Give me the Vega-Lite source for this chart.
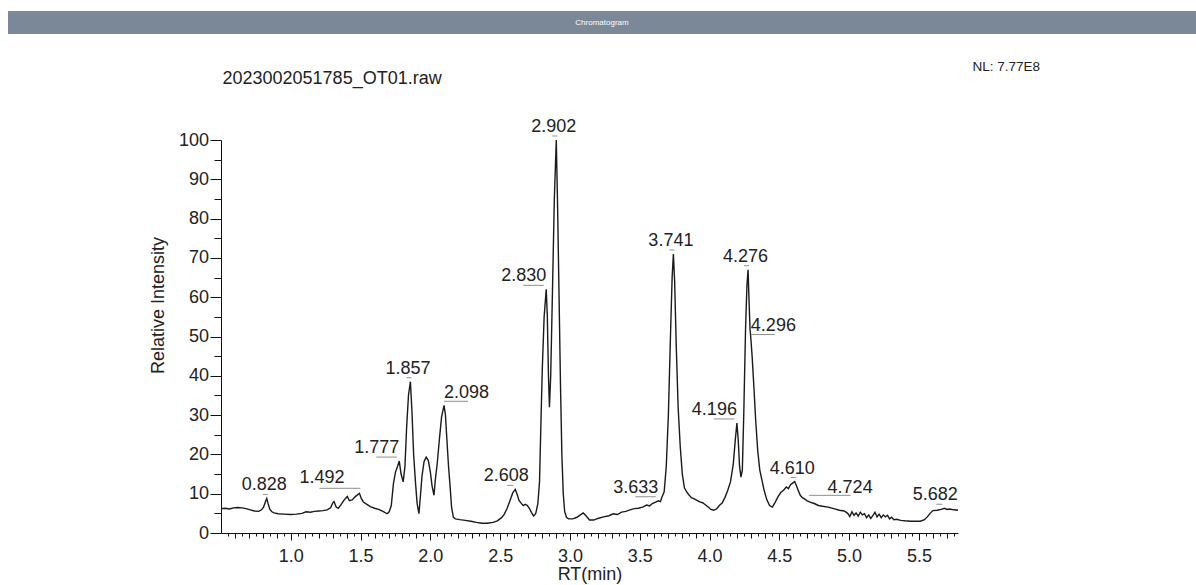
{
  "$schema": "https://vega.github.io/schema/vega-lite/v6.json",
  "padding": {"left": 8, "top": 11, "right": 0, "bottom": 0},
  "background": "white",
  "config": {
    "view": {"stroke": null},
    "font": "Liberation Sans",
    "axis": {
      "grid": false,
      "domainColor": "#111111",
      "tickColor": "#111111",
      "labelColor": "#222222",
      "titleColor": "#222222",
      "labelFont": "Liberation Sans",
      "titleFont": "Liberation Sans",
      "labelFontSize": 18,
      "titleFontSize": 18,
      "titleFontWeight": "normal"
    }
  },
  "datasets": {
    "trace": [
      {"rt": 0.50, "intensity": 6.2}, {"rt": 0.53, "intensity": 6.3}, {"rt": 0.56, "intensity": 6.1}, {"rt": 0.59, "intensity": 6.4},
      {"rt": 0.62, "intensity": 6.5}, {"rt": 0.65, "intensity": 6.4}, {"rt": 0.68, "intensity": 6.2}, {"rt": 0.71, "intensity": 5.9},
      {"rt": 0.74, "intensity": 5.6}, {"rt": 0.77, "intensity": 5.5}, {"rt": 0.79, "intensity": 5.9}, {"rt": 0.805, "intensity": 6.6},
      {"rt": 0.817, "intensity": 7.8}, {"rt": 0.828, "intensity": 8.8}, {"rt": 0.838, "intensity": 7.4}, {"rt": 0.85, "intensity": 6.0},
      {"rt": 0.865, "intensity": 5.4}, {"rt": 0.88, "intensity": 5.1}, {"rt": 0.91, "intensity": 4.9}, {"rt": 0.95, "intensity": 4.8},
      {"rt": 1.00, "intensity": 4.7}, {"rt": 1.04, "intensity": 4.8}, {"rt": 1.08, "intensity": 5.0}, {"rt": 1.11, "intensity": 5.4},
      {"rt": 1.14, "intensity": 5.3}, {"rt": 1.17, "intensity": 5.5}, {"rt": 1.20, "intensity": 5.6}, {"rt": 1.23, "intensity": 5.7},
      {"rt": 1.26, "intensity": 5.9}, {"rt": 1.285, "intensity": 6.4}, {"rt": 1.30, "intensity": 7.6}, {"rt": 1.31, "intensity": 8.0},
      {"rt": 1.325, "intensity": 6.6}, {"rt": 1.34, "intensity": 6.3}, {"rt": 1.36, "intensity": 7.2}, {"rt": 1.38, "intensity": 8.3},
      {"rt": 1.395, "intensity": 8.9}, {"rt": 1.405, "intensity": 9.3}, {"rt": 1.42, "intensity": 8.2}, {"rt": 1.44, "intensity": 8.4},
      {"rt": 1.46, "intensity": 9.2}, {"rt": 1.478, "intensity": 9.7}, {"rt": 1.492, "intensity": 10.1}, {"rt": 1.505, "intensity": 8.8},
      {"rt": 1.52, "intensity": 7.9}, {"rt": 1.54, "intensity": 7.4}, {"rt": 1.57, "intensity": 6.7}, {"rt": 1.60, "intensity": 6.3},
      {"rt": 1.63, "intensity": 6.0}, {"rt": 1.66, "intensity": 5.5}, {"rt": 1.69, "intensity": 4.9}, {"rt": 1.705, "intensity": 5.4},
      {"rt": 1.72, "intensity": 7.0}, {"rt": 1.735, "intensity": 12.5}, {"rt": 1.75, "intensity": 15.5}, {"rt": 1.765, "intensity": 17.0},
      {"rt": 1.777, "intensity": 18.3}, {"rt": 1.79, "intensity": 15.0}, {"rt": 1.805, "intensity": 13.0}, {"rt": 1.818, "intensity": 17.0},
      {"rt": 1.83, "intensity": 27.0}, {"rt": 1.843, "intensity": 35.0}, {"rt": 1.857, "intensity": 38.5}, {"rt": 1.868, "intensity": 31.0},
      {"rt": 1.88, "intensity": 20.0}, {"rt": 1.893, "intensity": 13.0}, {"rt": 1.905, "intensity": 7.5}, {"rt": 1.918, "intensity": 4.9},
      {"rt": 1.93, "intensity": 10.0}, {"rt": 1.94, "intensity": 14.5}, {"rt": 1.955, "intensity": 18.2}, {"rt": 1.97, "intensity": 19.3},
      {"rt": 1.985, "intensity": 18.5}, {"rt": 2.0, "intensity": 15.5}, {"rt": 2.012, "intensity": 12.0}, {"rt": 2.026, "intensity": 9.6},
      {"rt": 2.035, "intensity": 13.4}, {"rt": 2.05, "intensity": 18.0}, {"rt": 2.065, "intensity": 24.0}, {"rt": 2.08, "intensity": 29.5},
      {"rt": 2.098, "intensity": 32.5}, {"rt": 2.108, "intensity": 30.0}, {"rt": 2.118, "intensity": 24.0}, {"rt": 2.13, "intensity": 17.0},
      {"rt": 2.141, "intensity": 12.0}, {"rt": 2.152, "intensity": 6.5}, {"rt": 2.165, "intensity": 4.0}, {"rt": 2.18, "intensity": 3.6},
      {"rt": 2.21, "intensity": 3.4}, {"rt": 2.25, "intensity": 3.2}, {"rt": 2.29, "intensity": 3.0}, {"rt": 2.33, "intensity": 2.7},
      {"rt": 2.37, "intensity": 2.5}, {"rt": 2.41, "intensity": 2.5}, {"rt": 2.45, "intensity": 2.7}, {"rt": 2.48, "intensity": 3.1},
      {"rt": 2.51, "intensity": 3.9}, {"rt": 2.53, "intensity": 4.8}, {"rt": 2.55, "intensity": 6.3}, {"rt": 2.57, "intensity": 8.2},
      {"rt": 2.59, "intensity": 10.2}, {"rt": 2.608, "intensity": 11.1}, {"rt": 2.622, "intensity": 9.8}, {"rt": 2.635, "intensity": 8.3},
      {"rt": 2.65, "intensity": 7.6}, {"rt": 2.665, "intensity": 7.0}, {"rt": 2.68, "intensity": 7.3}, {"rt": 2.695, "intensity": 7.0},
      {"rt": 2.71, "intensity": 6.2}, {"rt": 2.725, "intensity": 5.2}, {"rt": 2.74, "intensity": 4.3}, {"rt": 2.755, "intensity": 5.0},
      {"rt": 2.77, "intensity": 7.5}, {"rt": 2.782, "intensity": 13.0}, {"rt": 2.792, "intensity": 28.0}, {"rt": 2.802, "intensity": 42.0},
      {"rt": 2.815, "intensity": 55.0}, {"rt": 2.830, "intensity": 62.0}, {"rt": 2.838, "intensity": 55.0}, {"rt": 2.846, "intensity": 40.0},
      {"rt": 2.853, "intensity": 32.0}, {"rt": 2.862, "intensity": 40.0}, {"rt": 2.875, "intensity": 62.0}, {"rt": 2.888, "intensity": 85.0},
      {"rt": 2.902, "intensity": 100.0}, {"rt": 2.912, "intensity": 82.0}, {"rt": 2.922, "intensity": 60.0}, {"rt": 2.932, "intensity": 38.0},
      {"rt": 2.942, "intensity": 20.0}, {"rt": 2.952, "intensity": 10.0}, {"rt": 2.962, "intensity": 5.5}, {"rt": 2.975, "intensity": 4.0},
      {"rt": 2.99, "intensity": 3.6}, {"rt": 3.02, "intensity": 3.6}, {"rt": 3.05, "intensity": 4.0}, {"rt": 3.075, "intensity": 4.6},
      {"rt": 3.095, "intensity": 5.1}, {"rt": 3.115, "intensity": 4.4}, {"rt": 3.14, "intensity": 3.3}, {"rt": 3.17, "intensity": 3.3},
      {"rt": 3.20, "intensity": 3.7}, {"rt": 3.24, "intensity": 4.1}, {"rt": 3.28, "intensity": 4.4}, {"rt": 3.31, "intensity": 4.9},
      {"rt": 3.34, "intensity": 4.7}, {"rt": 3.37, "intensity": 5.3}, {"rt": 3.40, "intensity": 5.5}, {"rt": 3.43, "intensity": 5.9},
      {"rt": 3.46, "intensity": 6.2}, {"rt": 3.49, "intensity": 6.3}, {"rt": 3.52, "intensity": 6.6}, {"rt": 3.55, "intensity": 7.1},
      {"rt": 3.57, "intensity": 6.9}, {"rt": 3.59, "intensity": 7.5}, {"rt": 3.61, "intensity": 7.8}, {"rt": 3.633, "intensity": 8.2},
      {"rt": 3.648, "intensity": 8.0}, {"rt": 3.66, "intensity": 9.2}, {"rt": 3.675, "intensity": 10.5}, {"rt": 3.69, "intensity": 17.0},
      {"rt": 3.705, "intensity": 30.0}, {"rt": 3.72, "intensity": 50.0}, {"rt": 3.732, "intensity": 65.0}, {"rt": 3.741, "intensity": 71.0},
      {"rt": 3.75, "intensity": 64.0}, {"rt": 3.762, "intensity": 47.0}, {"rt": 3.775, "intensity": 32.0}, {"rt": 3.79, "intensity": 22.0},
      {"rt": 3.805, "intensity": 15.0}, {"rt": 3.82, "intensity": 11.5}, {"rt": 3.835, "intensity": 10.5}, {"rt": 3.85, "intensity": 9.8},
      {"rt": 3.87, "intensity": 9.0}, {"rt": 3.89, "intensity": 8.7}, {"rt": 3.91, "intensity": 8.3}, {"rt": 3.93, "intensity": 7.9},
      {"rt": 3.95, "intensity": 7.7}, {"rt": 3.97, "intensity": 7.2}, {"rt": 3.99, "intensity": 6.6}, {"rt": 4.01, "intensity": 6.0},
      {"rt": 4.03, "intensity": 5.8}, {"rt": 4.05, "intensity": 6.1}, {"rt": 4.07, "intensity": 7.0}, {"rt": 4.09, "intensity": 7.6},
      {"rt": 4.11, "intensity": 9.0}, {"rt": 4.13, "intensity": 10.8}, {"rt": 4.15, "intensity": 13.0}, {"rt": 4.17, "intensity": 17.5},
      {"rt": 4.184, "intensity": 23.5}, {"rt": 4.196, "intensity": 28.0}, {"rt": 4.205, "intensity": 24.0}, {"rt": 4.215, "intensity": 17.0},
      {"rt": 4.225, "intensity": 14.2}, {"rt": 4.235, "intensity": 16.0}, {"rt": 4.245, "intensity": 30.0}, {"rt": 4.258, "intensity": 52.0},
      {"rt": 4.268, "intensity": 63.0}, {"rt": 4.276, "intensity": 67.0}, {"rt": 4.284, "intensity": 58.0}, {"rt": 4.290, "intensity": 52.0},
      {"rt": 4.296, "intensity": 49.5}, {"rt": 4.305, "intensity": 45.0}, {"rt": 4.318, "intensity": 37.0}, {"rt": 4.33, "intensity": 29.0},
      {"rt": 4.345, "intensity": 21.0}, {"rt": 4.36, "intensity": 16.0}, {"rt": 4.375, "intensity": 13.5}, {"rt": 4.39, "intensity": 11.0},
      {"rt": 4.41, "intensity": 8.5}, {"rt": 4.43, "intensity": 7.0}, {"rt": 4.45, "intensity": 6.6}, {"rt": 4.47, "intensity": 7.8},
      {"rt": 4.49, "intensity": 9.2}, {"rt": 4.51, "intensity": 10.3}, {"rt": 4.53, "intensity": 10.9}, {"rt": 4.55, "intensity": 11.7},
      {"rt": 4.565, "intensity": 11.3}, {"rt": 4.58, "intensity": 12.3}, {"rt": 4.595, "intensity": 12.7}, {"rt": 4.610, "intensity": 13.1},
      {"rt": 4.622, "intensity": 12.1}, {"rt": 4.635, "intensity": 10.9}, {"rt": 4.65, "intensity": 9.6}, {"rt": 4.665, "intensity": 9.0},
      {"rt": 4.68, "intensity": 8.7}, {"rt": 4.70, "intensity": 8.2}, {"rt": 4.724, "intensity": 7.8}, {"rt": 4.75, "intensity": 7.5},
      {"rt": 4.78, "intensity": 7.0}, {"rt": 4.81, "intensity": 6.8}, {"rt": 4.85, "intensity": 6.6}, {"rt": 4.89, "intensity": 6.2},
      {"rt": 4.93, "intensity": 5.8}, {"rt": 4.965, "intensity": 5.6}, {"rt": 4.99, "intensity": 5.0}, {"rt": 5.005, "intensity": 4.2},
      {"rt": 5.02, "intensity": 5.4}, {"rt": 5.035, "intensity": 4.5}, {"rt": 5.05, "intensity": 5.1}, {"rt": 5.065, "intensity": 4.3},
      {"rt": 5.08, "intensity": 5.3}, {"rt": 5.095, "intensity": 4.6}, {"rt": 5.11, "intensity": 4.9}, {"rt": 5.125, "intensity": 3.9},
      {"rt": 5.14, "intensity": 4.6}, {"rt": 5.155, "intensity": 3.7}, {"rt": 5.17, "intensity": 4.4}, {"rt": 5.185, "intensity": 5.3},
      {"rt": 5.20, "intensity": 4.1}, {"rt": 5.215, "intensity": 4.8}, {"rt": 5.23, "intensity": 3.9}, {"rt": 5.245, "intensity": 4.6},
      {"rt": 5.26, "intensity": 4.1}, {"rt": 5.275, "intensity": 4.5}, {"rt": 5.29, "intensity": 3.6}, {"rt": 5.305, "intensity": 4.0},
      {"rt": 5.32, "intensity": 3.4}, {"rt": 5.34, "intensity": 3.5}, {"rt": 5.37, "intensity": 3.2}, {"rt": 5.40, "intensity": 3.1},
      {"rt": 5.44, "intensity": 3.0}, {"rt": 5.48, "intensity": 3.0}, {"rt": 5.51, "intensity": 3.0}, {"rt": 5.54, "intensity": 3.4},
      {"rt": 5.56, "intensity": 4.1}, {"rt": 5.58, "intensity": 5.0}, {"rt": 5.60, "intensity": 5.7}, {"rt": 5.63, "intensity": 5.8},
      {"rt": 5.66, "intensity": 6.0}, {"rt": 5.682, "intensity": 6.3}, {"rt": 5.70, "intensity": 6.0}, {"rt": 5.72, "intensity": 6.1},
      {"rt": 5.75, "intensity": 5.9}, {"rt": 5.78, "intensity": 5.8}
    ],
    "peaks": [
      {"rt": 0.828, "intensity": 8.8, "side": "above"},
      {"rt": 1.492, "intensity": 10.1, "side": "leftFar"},
      {"rt": 1.777, "intensity": 18.3, "side": "left"},
      {"rt": 1.857, "intensity": 38.5, "side": "above"},
      {"rt": 2.098, "intensity": 32.5, "side": "right"},
      {"rt": 2.608, "intensity": 11.1, "side": "aboveLeft"},
      {"rt": 2.830, "intensity": 62.0, "side": "left"},
      {"rt": 2.902, "intensity": 100.0, "side": "above"},
      {"rt": 3.633, "intensity": 8.2, "side": "left"},
      {"rt": 3.741, "intensity": 71.0, "side": "above"},
      {"rt": 4.196, "intensity": 28.0, "side": "left"},
      {"rt": 4.276, "intensity": 67.0, "side": "above"},
      {"rt": 4.296, "intensity": 49.5, "side": "right"},
      {"rt": 4.610, "intensity": 13.1, "side": "above"},
      {"rt": 4.724, "intensity": 7.8, "side": "rightFar"},
      {"rt": 5.682, "intensity": 6.3, "side": "aboveLeft"}
    ]
  },
  "vconcat": [
    {
      "width": 1188,
      "height": 23,
      "view": {"fill": "#7a8898", "stroke": null},
      "data": {"values": [{"caption": "Chromatogram"}]},
      "mark": {"type": "text", "color": "white", "fontSize": 8, "font": "Liberation Sans"},
      "encoding": {"text": {"field": "caption"}}
    },
    {
      "hconcat": [
        {
          "width": 213,
          "height": 393,
          "data": {"values": [{"caption": "Relative Intensity"}]},
          "mark": {"type": "text", "angle": 270, "fontSize": 18, "color": "#222222", "align": "center", "baseline": "middle", "dx": 31, "dy": 44},
          "encoding": {"text": {"field": "caption"}}
        },
        {
          "width": 737,
          "height": 393,
          "resolve": {"axis": {"x": "independent", "y": "independent"}},
          "layer": [
            {
              "data": {"name": "trace"},
              "mark": {"type": "line", "color": "#1a1a1a", "strokeWidth": 1.4},
              "encoding": {
                "x": {
                  "field": "rt", "type": "quantitative",
                  "scale": {"domain": [0.5, 5.78], "nice": false, "zero": false},
                  "axis": {
                    "orient": "bottom", "values": [1, 1.5, 2, 2.5, 3, 3.5, 4, 4.5, 5, 5.5], "format": ".1f",
                    "tickSize": 7, "labelPadding": 7.5, "labelFlush": false, "labelOverlap": false,
                    "title": "RT(min)", "titleX": 368.5, "titleY": 46.5, "titleAlign": "center", "titleBaseline": "alphabetic"
                  }
                },
                "y": {
                  "field": "intensity", "type": "quantitative",
                  "scale": {"domain": [0, 100], "nice": false, "zero": true},
                  "axis": {
                    "orient": "left", "values": [0, 10, 20, 30, 40, 50, 60, 70, 80, 90, 100],
                    "tickSize": 11, "labelPadding": 1.5, "labelOverlap": false, "title": null
                  }
                }
              }
            },
            {
              "data": {"name": "peaks"},
              "transform": [{"filter": "datum.side === 'above'"}],
              "mark": {"type": "rule", "color": "#8f8f8f", "strokeWidth": 1, "xOffset": -4, "x2Offset": 1, "yOffset": -4},
              "encoding": {
                "x": {
                  "field": "rt", "type": "quantitative",
                  "axis": {
                    "orient": "bottom", "domain": false, "labels": false, "tickSize": 3, "title": null,
                    "values": [0.55, 0.65, 0.75, 0.85, 0.95, 1.05, 1.15, 1.25, 1.35, 1.45, 1.55, 1.65, 1.75, 1.85, 1.95, 2.05, 2.15, 2.25, 2.35, 2.45, 2.55, 2.65, 2.75, 2.85, 2.95, 3.05, 3.15, 3.25, 3.35, 3.45, 3.55, 3.65, 3.75, 3.85, 3.95, 4.05, 4.15, 4.25, 4.35, 4.45, 4.55, 4.65, 4.75, 4.85, 4.95, 5.05, 5.15, 5.25, 5.35, 5.45, 5.55, 5.65, 5.75]
                  }
                },
                "x2": {"field": "rt"},
                "y": {
                  "field": "intensity", "type": "quantitative",
                  "axis": {
                    "orient": "left", "domain": false, "labels": false, "tickSize": 7, "title": null,
                    "values": [5, 15, 25, 35, 45, 55, 65, 75, 85, 95]
                  }
                }
              }
            },
            {
              "data": {"name": "peaks"},
              "transform": [{"filter": "datum.side === 'aboveLeft'"}],
              "mark": {"type": "rule", "color": "#8f8f8f", "strokeWidth": 1, "xOffset": -8, "x2Offset": -2, "yOffset": -4},
              "encoding": {
                "x": {
                  "field": "rt", "type": "quantitative",
                  "axis": {
                    "orient": "bottom", "domain": false, "labels": false, "tickSize": 5, "title": null,
                    "values": [0.6, 0.7, 0.8, 0.9, 1.1, 1.2, 1.3, 1.4, 1.6, 1.7, 1.8, 1.9, 2.1, 2.2, 2.3, 2.4, 2.6, 2.7, 2.8, 2.9, 3.1, 3.2, 3.3, 3.4, 3.6, 3.7, 3.8, 3.9, 4.1, 4.2, 4.3, 4.4, 4.6, 4.7, 4.8, 4.9, 5.1, 5.2, 5.3, 5.4, 5.6, 5.7]
                  }
                },
                "x2": {"field": "rt"},
                "y": {"field": "intensity", "type": "quantitative", "axis": null}
              }
            },
            {
              "data": {"name": "peaks"},
              "transform": [{"filter": "datum.side === 'left'"}],
              "mark": {"type": "rule", "color": "#8f8f8f", "strokeWidth": 1, "xOffset": -23, "x2Offset": -2.5, "yOffset": -4},
              "encoding": {
                "x": {"field": "rt", "type": "quantitative", "axis": null},
                "x2": {"field": "rt"},
                "y": {"field": "intensity", "type": "quantitative", "axis": null}
              }
            },
            {
              "data": {"name": "peaks"},
              "transform": [{"filter": "datum.side === 'leftFar'"}],
              "mark": {"type": "rule", "color": "#8f8f8f", "strokeWidth": 1, "xOffset": -40, "x2Offset": 1, "yOffset": -5},
              "encoding": {
                "x": {"field": "rt", "type": "quantitative", "axis": null},
                "x2": {"field": "rt"},
                "y": {"field": "intensity", "type": "quantitative", "axis": null}
              }
            },
            {
              "data": {"name": "peaks"},
              "transform": [{"filter": "datum.side === 'right'"}],
              "mark": {"type": "rule", "color": "#8f8f8f", "strokeWidth": 1, "xOffset": 0, "x2Offset": 24, "yOffset": -4},
              "encoding": {
                "x": {"field": "rt", "type": "quantitative", "axis": null},
                "x2": {"field": "rt"},
                "y": {"field": "intensity", "type": "quantitative", "axis": null}
              }
            },
            {
              "data": {"name": "peaks"},
              "transform": [{"filter": "datum.side === 'rightFar'"}],
              "mark": {"type": "rule", "color": "#8f8f8f", "strokeWidth": 1, "xOffset": -1.5, "x2Offset": 40, "yOffset": -7},
              "encoding": {
                "x": {"field": "rt", "type": "quantitative", "axis": null},
                "x2": {"field": "rt"},
                "y": {"field": "intensity", "type": "quantitative", "axis": null}
              }
            },
            {
              "data": {"name": "peaks"},
              "transform": [{"filter": "datum.side === 'above'"}],
              "mark": {"type": "text", "align": "center", "baseline": "bottom", "dx": -2.5, "dy": -4, "fontSize": 18, "color": "#222222"},
              "encoding": {
                "x": {"field": "rt", "type": "quantitative", "axis": null},
                "y": {"field": "intensity", "type": "quantitative", "axis": null},
                "text": {"field": "rt", "type": "quantitative", "format": ".3f"}
              }
            },
            {
              "data": {"name": "peaks"},
              "transform": [{"filter": "datum.side === 'aboveLeft'"}],
              "mark": {"type": "text", "align": "center", "baseline": "bottom", "dx": -9, "dy": -4, "fontSize": 18, "color": "#222222"},
              "encoding": {
                "x": {"field": "rt", "type": "quantitative", "axis": null},
                "y": {"field": "intensity", "type": "quantitative", "axis": null},
                "text": {"field": "rt", "type": "quantitative", "format": ".3f"}
              }
            },
            {
              "data": {"name": "peaks"},
              "transform": [{"filter": "datum.side === 'left'"}],
              "mark": {"type": "text", "align": "right", "baseline": "bottom", "dx": 0, "dy": -4, "fontSize": 18, "color": "#222222"},
              "encoding": {
                "x": {
                  "field": "rt", "type": "quantitative",
                  "axis": {
                    "orient": "top", "domain": false, "labels": false, "ticks": false,
                    "title": "2023002051785_OT01.raw", "titleX": 1, "titleY": -56.7, "titleAlign": "left", "titleBaseline": "alphabetic"
                  }
                },
                "y": {"field": "intensity", "type": "quantitative", "axis": null},
                "text": {"field": "rt", "type": "quantitative", "format": ".3f"}
              }
            },
            {
              "data": {"name": "peaks"},
              "transform": [{"filter": "datum.side === 'leftFar'"}],
              "mark": {"type": "text", "align": "right", "baseline": "bottom", "dx": -15, "dy": -6, "fontSize": 18, "color": "#222222"},
              "encoding": {
                "x": {"field": "rt", "type": "quantitative", "axis": null},
                "y": {"field": "intensity", "type": "quantitative", "axis": null},
                "text": {"field": "rt", "type": "quantitative", "format": ".3f"}
              }
            },
            {
              "data": {"name": "peaks"},
              "transform": [{"filter": "datum.side === 'right'"}],
              "mark": {"type": "text", "align": "left", "baseline": "bottom", "dx": 0, "dy": -3, "fontSize": 18, "color": "#222222"},
              "encoding": {
                "x": {"field": "rt", "type": "quantitative", "axis": null},
                "y": {
                  "field": "intensity", "type": "quantitative",
                  "axis": {
                    "orient": "right", "domain": false, "labels": false, "ticks": false,
                    "title": "NL: 7.77E8", "titleAngle": 0, "titleX": 14, "titleY": -69.5, "titleAlign": "left",
                    "titleBaseline": "alphabetic", "titleFontSize": 13.5
                  }
                },
                "text": {"field": "rt", "type": "quantitative", "format": ".3f"}
              }
            },
            {
              "data": {"name": "peaks"},
              "transform": [{"filter": "datum.side === 'rightFar'"}],
              "mark": {"type": "text", "align": "left", "baseline": "bottom", "dx": 17, "dy": -5, "fontSize": 18, "color": "#222222"},
              "encoding": {
                "x": {"field": "rt", "type": "quantitative", "axis": null},
                "y": {"field": "intensity", "type": "quantitative", "axis": null},
                "text": {"field": "rt", "type": "quantitative", "format": ".3f"}
              }
            }
          ]
        }
      ],
      "spacing": 0,
      "align": "none",
      "bounds": "flush"
    }
  ],
  "spacing": 106,
  "align": "none",
  "bounds": "flush"
}
